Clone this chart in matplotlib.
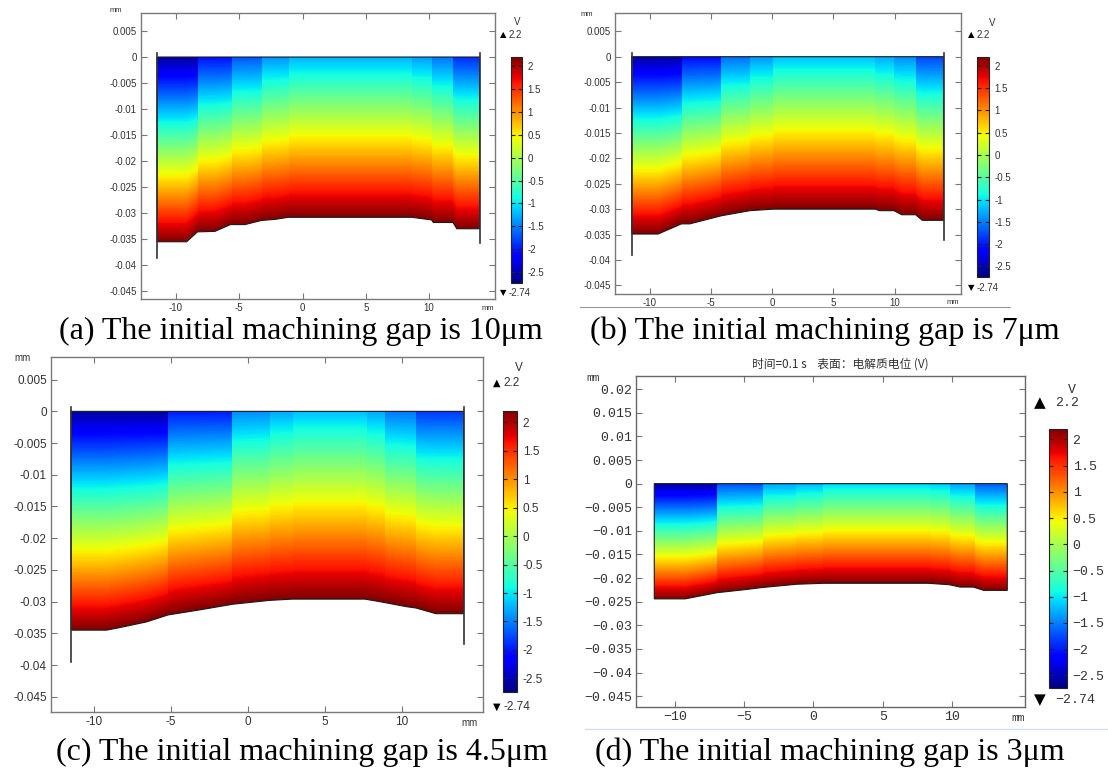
import numpy as np
import matplotlib
matplotlib.use("Agg")
import matplotlib.pyplot as plt
from matplotlib.patches import Polygon
from matplotlib.lines import Line2D

# COMSOL electrolyte-potential snapshots for four initial machining gaps.
# Field = linear between the tool (top, y=0, per-band potential) and the
# workpiece surface (bottom profile, held at VMAX).
VMIN, VMAX = -2.74, 2.2
CB_TICKS = [-2.5, -2, -1.5, -1, -0.5, 0, 0.5, 1, 1.5, 2]
X_TICKS = [-10, -5, 0, 5, 10]
Y_TICKS = [0.005, 0, -0.005, -0.01, -0.015, -0.02, -0.025, -0.03, -0.035, -0.04, -0.045]
Y_TICKS_D = [0.02, 0.015, 0.01, 0.005, 0, -0.005, -0.01, -0.015, -0.02,
             -0.025, -0.03, -0.035, -0.04, -0.045]
CAPTIONS = ["(a) The initial machining gap is 10μm",
            "(b) The initial machining gap is 7μm",
            "(c) The initial machining gap is 4.5μm",
            "(d) The initial machining gap is 3μm"]
TITLE_D = "时间=0.1 s    表面：电解质电位 (V)"

# (a) 10 um
A_BAND_EDGES = [-11.5, -8.3, -5.6, -3.23, -1.12, 8.63, 10.2, 11.9, 14.0]
A_TOP_V = [-2.6, -2.05, -1.7, -1.4, -1.25, -1.35, -1.55, -1.9]
A_PROF_X = [-11.5, -9.16, -8.31, -6.92, -5.7, -4.55, -3.23, -2.17, -1.12, 8.63, 10.2, 10.35, 11.9, 12.2, 14.0]
A_PROF_Y = [-0.0355, -0.0355, -0.0336, -0.0335, -0.0322, -0.0322, -0.0314, -0.0312,
            -0.0308, -0.0308, -0.0313, -0.0318, -0.0318, -0.033, -0.033]
A_EDGE_DROP = [-0.0387, -0.0358]

# (b) 7 um
B_BAND_EDGES = [-11.5, -7.43, -4.2, -1.83, 0.0, 8.4, 9.95, 11.72, 14.0]
B_TOP_V = [-2.6, -2.1, -1.6, -1.4, -1.2, -1.3, -1.45, -1.8]
B_PROF_X = [-11.5, -9.34, -7.43, -6.75, -4.15, -1.83, 0.08, 8.46, 8.73, 9.95, 10.58, 11.72, 12.27, 14.0]
B_PROF_Y = [-0.0349, -0.0349, -0.0329, -0.0329, -0.0313, -0.0303, -0.0300, -0.0300,
            -0.0303, -0.0303, -0.0311, -0.0311, -0.0322, -0.0322]
B_EDGE_DROP = [-0.039, -0.036]

# (c) 4.5 um
C_BAND_EDGES = [-11.5, -5.2, -1.04, 1.4, 2.9, 7.7, 8.9, 10.9, 14.0]
C_TOP_V = [-2.6, -2.0, -1.45, -1.3, -1.2, -1.3, -1.55, -1.85]
C_PROF_X = [-11.5, -9.2, -8.35, -6.6, -5.2, -3.14, -0.97, 1.4, 2.9, 7.58, 8.55, 10.3, 10.9, 12.2, 14.0]
C_PROF_Y = [-0.0345, -0.0345, -0.0341, -0.0332, -0.0321, -0.0313, -0.0304, -0.0298,
            -0.0296, -0.0296, -0.0300, -0.0308, -0.0310, -0.0319, -0.0319]
C_EDGE_DROP = [-0.0395, -0.0367]

# (d) 3 um
D_BAND_EDGES = [-11.5, -6.98, -3.68, -1.25, 0.65, 8.38, 9.8, 11.6, 14.0]
D_TOP_V = [-2.6, -1.75, -1.35, -1.25, -1.1, -1.15, -1.35, -1.7]
D_PROF_X = [-11.5, -9.27, -6.98, -4.81, -3.73, -1.2, 0.72, 8.3, 9.8, 10.6, 11.55, 12.3, 14.0]
D_PROF_Y = [-0.0244, -0.0244, -0.0231, -0.0224, -0.0220, -0.0213, -0.0211, -0.0211,
            -0.0214, -0.0219, -0.0219, -0.0226, -0.0226]
D_EDGE_DROP = None

W, H = 1108, 771
fig = plt.figure(figsize=(W / 100, H / 100), dpi=100)

def fx(px): return px / W
def fy(py): return 1 - py / H

def box(l, t, r, b):
    return [fx(l), fy(b), (r - l) / W, (b - t) / H]

SANS = ["Liberation Sans", "DejaVu Sans"]
MONO = ["Liberation Mono", "DejaVu Sans Mono"]

# layout in pixels of the reference
LAYOUT = {
    "a": dict(ax=(141, 13, 495, 299), xlim=(-12.77, 15.22), ylim=(-0.0465, 0.00846),
              cb=(511, 57, 522, 283), fs=7, font=SANS, yticks=Y_TICKS,
              V=(517, 22), up=(503, 35), dn=(503, 293), tri=6, valx=509,
              mm_top=(116, 11), mm_bot=(488, 309), cap=(301, 331)),
    "b": dict(ax=(615, 13, 961, 294), xlim=(-12.86, 15.43), ylim=(-0.0467, 0.0086),
              cb=(977, 57, 989, 277), fs=7, font=SANS, yticks=Y_TICKS,
              V=(992, 23), up=(971, 35), dn=(971, 288), tri=6, valx=977,
              mm_top=(587, 14), mm_bot=(953, 303), cap=(825, 331)),
    "c": dict(ax=(51, 357, 483, 712), xlim=(-12.8, 15.26), ylim=(-0.0474, 0.00857),
              cb=(503, 411, 517, 692), fs=8.5, font=SANS, yticks=Y_TICKS,
              V=(519, 368), up=(497, 383), dn=(497, 707), tri=7, valx=503,
              mm_top=(23, 358), mm_bot=(470, 723), cap=(302, 752)),
    "d": dict(ax=(636, 376, 1025, 707), xlim=(-12.82, 15.28), ylim=(-0.0473, 0.0228),
              cb=(1049, 429, 1067, 688), fs=9.5, font=MONO, yticks=Y_TICKS_D,
              V=(1072, 390), up=(1040, 403), dn=(1040, 700), tri=11, valx=1055,
              mm_top=(593, 378), mm_bot=(1018, 718), cap=(830, 752)),
}

PANELS = {
    "a": (A_BAND_EDGES, A_TOP_V, A_PROF_X, A_PROF_Y, A_EDGE_DROP),
    "b": (B_BAND_EDGES, B_TOP_V, B_PROF_X, B_PROF_Y, B_EDGE_DROP),
    "c": (C_BAND_EDGES, C_TOP_V, C_PROF_X, C_PROF_Y, C_EDGE_DROP),
    "d": (D_BAND_EDGES, D_TOP_V, D_PROF_X, D_PROF_Y, D_EDGE_DROP),
}

def fmt(v, mono=False):
    s = f"{v:g}"
    return s.replace("-", "\u2212") if mono else s

for i, key in enumerate("abcd"):
    edges, top_v, prof_x, prof_y, drop = PANELS[key]
    lay = LAYOUT[key]
    mono = key == "d"
    ax = fig.add_axes(box(*lay["ax"]))

    # potential field on a fine grid, clipped to the gap polygon
    x = np.linspace(edges[0], edges[-1], 1400)
    ymin = min(prof_y)
    y = np.linspace(ymin, 0, 600)
    idx = np.clip(np.searchsorted(edges, x, side="right") - 1, 0, len(top_v) - 1)
    top = np.asarray(top_v)[idx]
    depth = -np.interp(x, prof_x, prof_y)
    frac = np.clip(-y[:, None] / depth[None, :], 0, 1)
    V = top[None, :] + (VMAX - top[None, :]) * frac
    im = ax.imshow(V, origin="lower", extent=[edges[0], edges[-1], ymin, 0],
                   aspect="auto", cmap="jet", vmin=VMIN, vmax=VMAX,
                   interpolation="nearest")
    verts = [(prof_x[0], 0)] + list(zip(prof_x, prof_y)) + [(prof_x[-1], 0)]
    clip = Polygon(verts, closed=True, facecolor="none", edgecolor="none",
                   transform=ax.transData)
    ax.add_patch(clip)
    im.set_clip_path(clip)
    ax.add_patch(Polygon(verts, closed=True, fill=False, edgecolor="#1a1a1a", lw=0.8))
    if drop is not None:
        ax.plot([prof_x[0]] * 2, [0.0007, drop[0]], color="#333", lw=1.2)
        ax.plot([prof_x[-1]] * 2, [0.0007, drop[1]], color="#333", lw=1.2)

    ax.set_xlim(*lay["xlim"])
    ax.set_ylim(*lay["ylim"])
    fs, font = lay["fs"], lay["font"]
    ax.set_xticks(X_TICKS, labels=[fmt(v, mono) for v in X_TICKS],
                  fontfamily=font, fontsize=fs, color="#333")
    ax.set_yticks(lay["yticks"], labels=[fmt(v, mono) for v in lay["yticks"]],
                  fontfamily=font, fontsize=fs, color="#333")
    ax.tick_params(direction="in", top=True, right=True, length=4, width=0.8,
                   color="#777", pad=3)
    for sp in ax.spines.values():
        sp.set_color("#7a7a7a" if not mono else "#666")
        sp.set_linewidth(1.0)

    # colour legend
    cax = fig.add_axes(box(*lay["cb"]))
    cb = fig.colorbar(im, cax=cax, ticks=CB_TICKS)
    cb.outline.set_edgecolor("#222")
    cb.outline.set_linewidth(0.8)
    cax.set_yticks(CB_TICKS, labels=[fmt(v, mono) for v in CB_TICKS],
                   fontfamily=font, fontsize=fs, color="#333")
    cax.tick_params(direction="in", left=True, right=True, length=3, width=0.8,
                    color="#222", pad=4)

    fig.text(fx(lay["V"][0]), fy(lay["V"][1]), "V", ha="center", va="center",
             fontsize=fs, family=font if mono else SANS, color="#333")
    fig.text(fx(lay["up"][0]), fy(lay["up"][1]), "▲", ha="center", va="center",
             fontsize=lay["tri"], family="DejaVu Sans", color="black")
    fig.text(fx(lay["dn"][0]), fy(lay["dn"][1]), "▼", ha="center", va="center",
             fontsize=lay["tri"], family="DejaVu Sans", color="black")
    fig.text(fx(lay["valx"]), fy(lay["up"][1]), fmt(VMAX, mono), ha="left",
             va="center", fontsize=fs, family=font, color="#333")
    fig.text(fx(lay["valx"]), fy(lay["dn"][1]), fmt(VMIN, mono), ha="left",
             va="center", fontsize=fs, family=font, color="#333")

    fig.text(fx(lay["mm_top"][0]), fy(lay["mm_top"][1]), "mm", ha="center",
             va="center", fontsize=fs - 1.5, family=font, color="#333")
    fig.text(fx(lay["mm_bot"][0]), fy(lay["mm_bot"][1]), "mm", ha="center",
             va="center", fontsize=fs - 1.5, family=font, color="#333")
    fig.text(fx(lay["cap"][0]), fy(lay["cap"][1]), CAPTIONS[i], ha="center",
             va="center", fontsize=23, family="Liberation Serif", color="black")

fig.text(fx(840), fy(364), TITLE_D, ha="center", va="center", fontsize=8.5,
         family=["Noto Sans CJK SC", "DejaVu Sans"], color="#333")

# screenshot borders left in the source figure
fig.add_artist(Line2D([fx(580), fx(1010)], [fy(307), fy(307)],
                      transform=fig.transFigure, color="#999", lw=0.8))
fig.add_artist(Line2D([fx(585), fx(1108)], [fy(729), fy(729)],
                      transform=fig.transFigure, color="#cfe0ee", lw=1.0))

fig.savefig("out.png", dpi=100)
